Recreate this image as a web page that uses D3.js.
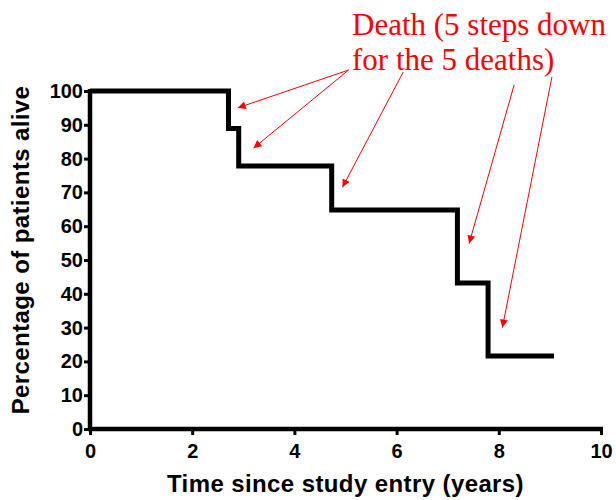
<!DOCTYPE html>
<html>
<head>
<meta charset="utf-8">
<script src="https://cdn.jsdelivr.net/npm/d3@7"></script>
<style>
  body { margin: 0; background: #fff; }
  svg { display: block; }
  .tick text { font-family: "Liberation Sans", Arial, sans-serif; font-weight: bold; font-size: 20px; fill: #000; }
  .axis-title { font-family: "Liberation Sans", Arial, sans-serif; font-weight: bold; font-size: 24px; letter-spacing: 0.4px; fill: #000; }
  .note { font-family: "Liberation Serif", "Times New Roman", serif; font-size: 31px; fill: #ff0000; }
</style>
</head>
<body>
<script>
// Kaplan-Meier steps: time of each death (years) and survival after it (%)
let deathTimes = [2.71, 2.91, 4.73, 7.19, 7.79];
let survival = [88.9, 77.8, 64.8, 43.2, 21.6];
let startSurvival = 100;
let endTime = 9.08;

let xTicks = [0, 2, 4, 6, 8, 10];
let yTicks = [0, 10, 20, 30, 40, 50, 60, 70, 80, 90, 100];

// annotation: text lines and arrows (tail -> head, in data units)
let noteLines = ["Death (5 steps down", "for the 5 deaths)"];
let arrowTails = [[5.06, 106.2], [5.06, 106.2], [6.13, 105.6], [8.30, 101.8], [9.04, 104.2]];
let arrowHeads = [[2.89, 95.0], [3.20, 83.1], [4.94, 71.5], [7.42, 54.9], [8.07, 30.0]];

let width = 616, height = 500;
let margin = {top: 91, right: 15, bottom: 71, left: 90};

let svg = d3.select("body").append("svg")
  .attr("width", width)
  .attr("height", height);

let x = d3.scaleLinear()
  .domain([0, 10])
  .range([margin.left, width - margin.right]);

let y = d3.scaleLinear()
  .domain([0, 100])
  .range([height - margin.bottom, margin.top]);

// axes
let xAxis = svg.append("g")
  .attr("transform", "translate(0," + y(0) + ")")
  .call(d3.axisBottom(x).tickValues(xTicks).tickFormat(d3.format("d")).tickSizeOuter(0).tickSize(6).tickPadding(9));

let yAxis = svg.append("g")
  .attr("transform", "translate(" + x(0) + ",0)")
  .call(d3.axisLeft(y).tickValues(yTicks).tickFormat(d3.format("d")).tickSizeOuter(0).tickSize(6).tickPadding(1));

xAxis.select(".domain").attr("stroke", "#000").attr("stroke-width", 4.5)
  .attr("d", "M" + (x(0) - 2) + ",0H" + (x(10) + 2));
yAxis.select(".domain").attr("stroke", "#000").attr("stroke-width", 4.5)
  .attr("d", "M0," + (y(0) + 2) + "V" + (y(100) - 2));
svg.selectAll(".tick line").attr("stroke", "#000").attr("stroke-width", 3);

// axis titles
svg.append("text")
  .attr("class", "axis-title")
  .attr("x", x(5))
  .attr("y", 492)
  .attr("text-anchor", "middle")
  .text("Time since study entry (years)");

svg.append("text")
  .attr("class", "axis-title")
  .attr("transform", "translate(29," + (y(50) - 10) + ") rotate(-90)")
  .attr("text-anchor", "middle")
  .text("Percentage of patients alive");

// survival curve
let pts = [[0, startSurvival]];
deathTimes.forEach(function(t, i) {
  pts.push([t, survival[i]]);
});
pts.push([endTime, survival[survival.length - 1]]);

let line = d3.line()
  .x(function(d) { return x(d[0]); })
  .y(function(d) { return y(d[1]); })
  .curve(d3.curveStepAfter);

svg.append("path")
  .datum(pts)
  .attr("fill", "none")
  .attr("stroke", "#000")
  .attr("stroke-width", 5)
  .attr("stroke-linejoin", "miter")
  .attr("d", line);

// annotation
svg.append("defs").append("marker")
  .attr("id", "head")
  .attr("viewBox", "0 0 10 10")
  .attr("refX", 10)
  .attr("refY", 5)
  .attr("markerWidth", 11)
  .attr("markerHeight", 8)
  .attr("markerUnits", "userSpaceOnUse")
  .attr("orient", "auto")
  .append("path")
  .attr("d", "M0,0L10,5L0,10Z")
  .attr("fill", "#ff0000");

svg.selectAll(".arrow")
  .data(arrowTails)
  .enter().append("line")
  .attr("class", "arrow")
  .attr("x1", function(d) { return x(d[0]); })
  .attr("y1", function(d) { return y(d[1]); })
  .attr("x2", function(d, i) { return x(arrowHeads[i][0]); })
  .attr("y2", function(d, i) { return y(arrowHeads[i][1]); })
  .attr("stroke", "#ff0000")
  .attr("stroke-width", 1)
  .attr("marker-end", "url(#head)");

svg.selectAll(".note")
  .data(noteLines)
  .enter().append("text")
  .attr("class", "note")
  .attr("x", 352)
  .attr("y", function(d, i) { return 35 + i * 35; })
  .text(function(d) { return d; });
</script>
</body>
</html>
